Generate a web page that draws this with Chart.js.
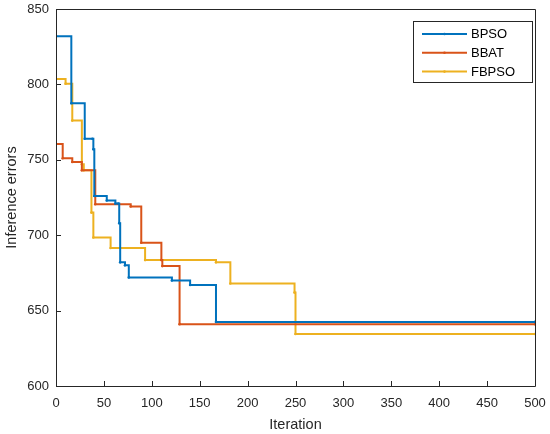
<!DOCTYPE html>
<html>
<head>
<meta charset="utf-8">
<script src="https://cdn.jsdelivr.net/npm/chart.js@4.4.1/dist/chart.umd.min.js"></script>
<style>
html, body { margin: 0; padding: 0; background: #fff; }
#wrap { width: 550px; height: 434px; }
</style>
</head>
<body>
<div id="wrap"><canvas id="myChart" width="550" height="434"></canvas></div>
<script>
// values: iteration where the best error changes, and the new error
const seriesNames = ["BPSO", "BBAT", "FBPSO"]
const seriesColors = ["#0072BD", "#D95319", "#EDB120"]

const bpsoIter = [0, 16, 30, 38, 39, 40, 53, 62, 65, 66, 67, 72, 76, 121, 140, 167, 500]
const bpsoErr = [832, 787.5, 764, 764, 757, 726, 723, 721, 721, 708, 682, 680, 672, 670, 667, 642.5, 642.5]

const bbatIter = [0, 7, 17, 27, 41, 78, 89, 110, 111, 129, 500]
const bbatErr = [760.5, 751, 748.5, 743, 720.5, 719, 695, 683.5, 679.5, 641, 641]

const fbpsoIter = [0, 10, 17, 27, 29, 37, 39, 57, 93, 167, 182, 249, 250, 500]
const fbpsoErr = [803.5, 800.5, 776, 747, 743, 715, 698.5, 691.5, 683.5, 682, 668, 662, 634.5, 634.5]

const xTicks = [0, 50, 100, 150, 200, 250, 300, 350, 400, 450, 500]
const yTicks = [600, 650, 700, 750, 800, 850]

const axisColor = "#262626"
const fontFamily = "'Liberation Sans', Arial, Helvetica, sans-serif"

function toPoints(xs, ys){
    let pts = []
    for (var i in xs){
        pts.push({x: xs[i], y: ys[i]})
    }
    return pts
}

const allIters = [bpsoIter, bbatIter, fbpsoIter]
const allErrs = [bpsoErr, bbatErr, fbpsoErr]

const datasets = seriesNames.map((name, i) => ({
    label: name,
    data: toPoints(allIters[i], allErrs[i]),
    borderColor: seriesColors[i],
    backgroundColor: seriesColors[i],
    borderWidth: 2,
    stepped: true,
    pointRadius: 1.3,
    pointHoverRadius: 0,
    pointBorderWidth: 0,
    fill: false
}))

// box round the plot area, with inward tick marks like the original figure
const boxPlugin = {
    id: "boxPlugin",
    afterDraw(chart){
        const ctx = chart.ctx
        const a = chart.chartArea
        const xs = chart.scales.x
        const ys = chart.scales.y
        ctx.save()
        ctx.strokeStyle = axisColor
        ctx.lineWidth = 1
        ctx.beginPath()
        ctx.rect(Math.round(a.left) + 0.5, Math.round(a.top) + 0.5, Math.round(a.right - a.left), Math.round(a.bottom - a.top))
        ctx.stroke()
        ctx.beginPath()
        xTicks.forEach(v => {
            const px = Math.round(xs.getPixelForValue(v)) + 0.5
            ctx.moveTo(px, a.bottom)
            ctx.lineTo(px, a.bottom - 5)
        })
        yTicks.forEach(v => {
            const py = Math.round(ys.getPixelForValue(v)) + 0.5
            ctx.moveTo(a.left, py)
            ctx.lineTo(a.left + 5, py)
        })
        ctx.stroke()
        ctx.restore()
    }
}

// legend drawn inside the top right corner
const legendPlugin = {
    id: "legendPlugin",
    afterDraw(chart){
        const ctx = chart.ctx
        const left = 413.5, top = 21.5, w = 119, h = 61
        ctx.save()
        ctx.fillStyle = "#fff"
        ctx.fillRect(left, top, w, h)
        ctx.strokeStyle = axisColor
        ctx.lineWidth = 1
        ctx.strokeRect(left, top, w, h)
        ctx.font = "13px " + fontFamily
        ctx.textBaseline = "middle"
        chart.data.datasets.forEach((ds, i) => {
            const y = 34 + i * 18.8
            ctx.strokeStyle = ds.borderColor
            ctx.lineWidth = 2
            ctx.beginPath()
            ctx.moveTo(422, y)
            ctx.lineTo(467, y)
            ctx.stroke()
            ctx.fillStyle = ds.borderColor
            ctx.beginPath()
            ctx.arc(444.5, y, 1.3, 0, Math.PI * 2)
            ctx.fill()
            ctx.fillStyle = "#000"
            ctx.fillText(ds.label, 471, y + 0.5)
        })
        ctx.restore()
    }
}

new Chart("myChart", {
    type: "line",
    data: { datasets: datasets },
    options: {
        responsive: false,
        animation: false,
        events: [],
        layout: { padding: { top: 9, right: 15, left: 0, bottom: 0 } },
        plugins: {
            legend: { display: false },
            tooltip: { enabled: false }
        },
        scales: {
            x: {
                type: "linear",
                min: 0,
                max: 500,
                afterBuildTicks: s => { s.ticks = xTicks.map(v => ({value: v})) },
                afterFit: s => { s.height = 48; s.paddingLeft = 0; s.paddingRight = 0 },
                grid: { display: false, drawTicks: false },
                border: { display: false },
                ticks: {
                    color: axisColor,
                    padding: 10,
                    maxRotation: 0,
                    font: { family: fontFamily, size: 13 }
                },
                title: {
                    display: true,
                    text: "Iteration",
                    color: axisColor,
                    padding: { top: 2, bottom: 0 },
                    font: { family: fontFamily, size: 14.5 }
                }
            },
            y: {
                type: "linear",
                min: 600,
                max: 850,
                afterBuildTicks: s => { s.ticks = yTicks.map(v => ({value: v})) },
                afterFit: s => { s.width = 56; s.paddingTop = 0; s.paddingBottom = 0 },
                grid: { display: false, drawTicks: false },
                border: { display: false },
                ticks: {
                    color: axisColor,
                    padding: 7,
                    font: { family: fontFamily, size: 13 }
                },
                title: {
                    display: true,
                    text: "Inference errors",
                    color: axisColor,
                    padding: { top: 3, bottom: 0 },
                    font: { family: fontFamily, size: 14.5 }
                }
            }
        }
    },
    plugins: [boxPlugin, legendPlugin]
})
</script>
</body>
</html>
